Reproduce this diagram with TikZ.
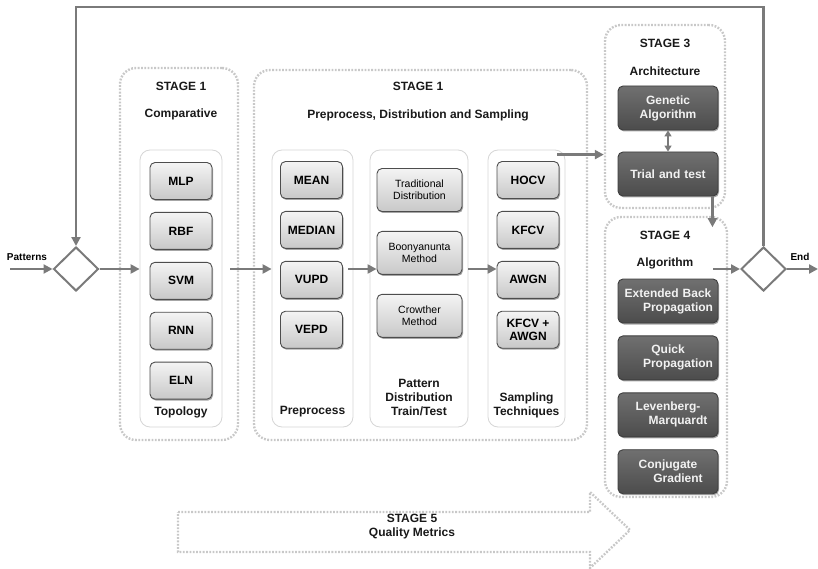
\documentclass[tikz,border=0pt]{standalone}
\usepackage{fontspec}
\setmainfont{Liberation Sans}
\usepackage{xcolor}
\usepackage{tikz}
\usetikzlibrary{arrows.meta,calc,positioning,shapes.geometric,shadows}
\definecolor{flowgray}{HTML}{7A7A7A}
\definecolor{dotgray}{HTML}{C8C8C8}
\definecolor{colgray}{HTML}{D6D6D6}
\definecolor{liteedge}{HTML}{4D4D4D}
\definecolor{litetop}{HTML}{F4F4F4}
\definecolor{litebot}{HTML}{C8C8C8}
\definecolor{darktop}{HTML}{707070}
\definecolor{darkbot}{HTML}{4C4C4C}
\definecolor{darkedge}{HTML}{3E3E3E}
\definecolor{darktext}{HTML}{F2F2F2}
\newcommand{\hdfont}{\bfseries\fontsize{12}{14}\selectfont}
\newcommand{\lightfont}{\fontsize{10.5}{12}\selectfont}
\newcommand{\tagfont}{\bfseries\fontsize{10}{12}\selectfont}
\tikzset{
  flow/.style={-{Triangle[length=9pt,width=9pt]},line width=2.2pt,draw=flowgray},
  twoway/.style={{Triangle[length=6pt,width=7pt]}-{Triangle[length=6pt,width=7pt]},line width=1.8pt,draw=flowgray},
  stagebox/.style={draw=dotgray,line width=2.4pt,dash pattern=on 1.8pt off 1.5pt,rounded corners=16pt},
  column/.style={draw=colgray,line width=0.8pt,rounded corners=10pt,fill=white,minimum height=277pt},
  boxshadow/.style={drop shadow={shadow xshift=1pt,shadow yshift=-1.5pt,fill=black,opacity=.35}},
  methodbox/.style={draw=liteedge,line width=0.9pt,rounded corners=5pt,top color=litetop,
    bottom color=litebot,boxshadow,align=center,inner sep=2pt},
  shortbox/.style={methodbox,font=\hdfont,minimum width=62pt,minimum height=37pt},
  wordbox/.style={methodbox,font=\lightfont,minimum width=85pt,minimum height=43pt},
  darkbox/.style={draw=darkedge,line width=0.9pt,rounded corners=5pt,top color=darktop,
    bottom color=darkbot,boxshadow,text=darktext,font=\hdfont,text width=94pt,align=center,
    minimum width=100pt,minimum height=44pt,inner sep=3pt},
  title/.style={font=\hdfont,align=center,text=black!90},
  decision/.style={diamond,draw=flowgray,line width=2pt,minimum width=45pt,minimum height=44pt,
    inner sep=0pt,aspect=1}
}
\begin{document}
\begin{tikzpicture}[x=1pt,y=-1pt,node distance=12pt]
  \useasboundingbox (0,0) rectangle (818,569);

  \node[stagebox,minimum width=118pt,minimum height=372pt] (comp) at (179,254) {};
  \node[stagebox,minimum width=333pt,minimum height=370pt] (prep) at (420.5,255) {};
  \node[stagebox,minimum width=120pt,minimum height=183pt] (stage3) at (665,116.5) {};
  \node[stagebox,minimum width=122pt,minimum height=280pt] (stage4) at (666,357) {};

  \node[title] (comptitle) at (181,86) {STAGE 1};
  \node[title] (compsub) at (181,114) {Comparative};
  \node[title] (preptitle) at (418,86) {STAGE 1};
  \node[title] (prepsub) at (418,115) {Preprocess, Distribution and Sampling};
  \node[title] (s3title) at (665,43) {STAGE 3};
  \node[title] (s3sub) at (665,71) {Architecture};
  \node[title] (s4title) at (665,235) {STAGE 4};
  \node[title] (s4sub) at (665,263) {Algorithm};

  \node[column,minimum width=82pt] (topocol) at (181,288.5) {};
  \node[column,minimum width=81pt] (prepcol) at (312.5,288.5) {};
  \node[column,minimum width=98pt] (distcol) at (419,288.5) {};
  \node[column,minimum width=77pt] (sampcol) at (526.5,288.5) {};

  \node[shortbox] (mlp) at (181,181) {MLP};
  \node[shortbox,below=of mlp] (rbf) {RBF};
  \node[shortbox,below=of rbf] (svm) {SVM};
  \node[shortbox,below=of svm] (rnn) {RNN};
  \node[shortbox,below=of rnn] (eln) {ELN};
  \node[title] (topolbl) at (181,412) {Topology};

  \node[shortbox] (mean) at (311.5,180) {MEAN};
  \node[shortbox,below=of mean] (median) {MEDIAN};
  \node[shortbox,below=of median] (vupd) {VUPD};
  \node[shortbox,below=of vupd] (vepd) {VEPD};
  \node[title] (preplbl) at (312.5,412) {Preprocess};

  \node[wordbox] (trad) at (419.5,190) {Traditional\\Distribution};
  \node[wordbox,below=19pt of trad] (boon) {Boonyanunta\\Method};
  \node[wordbox,below=19pt of boon] (crow) {Crowther\\Method};
  \node[title] (distlbl) at (419,397) {Pattern\\Distribution\\Train/Test};

  \node[shortbox] (hocv) at (528,180) {HOCV};
  \node[shortbox,below=of hocv] (kfcv) {KFCV};
  \node[shortbox,below=of kfcv] (awgn) {AWGN};
  \node[shortbox,below=of awgn,font=\hdfont\fontsize{12}{13}\selectfont] (mixed) {KFCV +\\AWGN};
  \node[title] (samplbl) at (526.5,405) {Sampling\\Techniques};

  \node[darkbox] (gen) at (668,108) {Genetic\\Algorithm};
  \node[darkbox] (trial) at (668,174) {Trial and test};

  \node[darkbox] (ebp) at (668,301) {Extended Back\\\hspace*{20pt}Propagation};
  \node[darkbox,below=of ebp] (qp) {Quick\\\hspace*{20pt}Propagation};
  \node[darkbox,below=of qp] (lm) {Levenberg-\\\hspace*{20pt}Marquardt};
  \node[darkbox,below=of lm] (cg) {Conjugate\\\hspace*{20pt}Gradient};

  \node[decision] (dec1) at (76,269) {};
  \node[decision] (dec2) at (763.5,269) {};
  \node[font=\tagfont] (patlbl) at (27,257) {Patterns};
  \node[font=\tagfont] (endlbl) at (800,257) {End};

  \coordinate (start) at (10,269);
  \coordinate (finish) at (818,269);
  \coordinate (looptop) at (0,7);
  \coordinate (sampout) at ($(sampcol.north east)+(-8,5)$);
  \coordinate (trialout) at ($(trial.south east)+(-6,0)$);

  \draw[flow] (start) -- (dec1.west);
  \draw[flow] (dec2.north) -- (dec2.north |- looptop) -| (dec1.north);
  \draw[flow] (dec1.east) -- (dec1.east -| topocol.west);
  \draw[flow,shorten <=8pt] (topocol.east |- dec1) -- (prepcol.west |- dec1);
  \draw[flow] ($(prepcol.east |- dec1)+(-5,0)$) -- (boon.west |- dec1);
  \draw[flow] (distcol.east |- dec1) -- (awgn.west |- dec1);
  \draw[flow] (sampout) -- (sampout -| stage3.west);
  \draw[twoway] (gen.south) -- (trial.north);
  \draw[flow] (trialout) -- (trialout |- s4title.north);
  \draw[flow] ($(stage4.east |- dec2)+(-15,0)$) -- (dec2.west);
  \draw[flow] (dec2.east) -- (finish);

  \draw[stagebox,rounded corners=0pt] (178,512) -- (590,512) -- (590,492) -- (630,530)
    -- (590,568) -- (590,552) -- (178,552) -- cycle;
  \node[title] (s5) at (412,527) {STAGE 5\\Quality Metrics};
\end{tikzpicture}
\end{document}
